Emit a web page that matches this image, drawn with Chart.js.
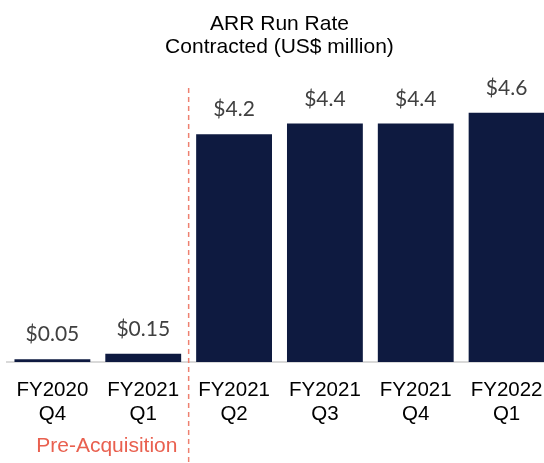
<!DOCTYPE html>
<html>
<head>
<meta charset="utf-8">
<script src="https://cdn.jsdelivr.net/npm/chart.js@4"></script>
<style>
html,body{margin:0;padding:0;background:#fff;overflow:hidden;width:544px;height:463px;}
#wrap{width:560px;height:463px;}
</style>
</head>
<body>
<div id="wrap"><canvas id="c" width="560" height="463"></canvas></div>
<script>
const categories = [["FY2020","Q4"],["FY2021","Q1"],["FY2021","Q2"],["FY2021","Q3"],["FY2021","Q4"],["FY2022","Q1"]];
const arrValues = [0.05, 0.15, 4.2, 4.4, 4.4, 4.6];
const valueLabels = ["$0.05", "$0.15", "$4.2", "$4.4", "$4.4", "$4.6"];
const titleLines = ["ARR Run Rate", "Contracted (US$ million)"];
const annotationText = "Pre-Acquisition";

const overlay = {
  id: 'overlay',
  afterDatasetsDraw(chart) {
    const ctx = chart.ctx;
    const meta = chart.getDatasetMeta(0);
    const x = chart.scales.x;
    ctx.save();
    // value labels
    ctx.font = '21px Lato, "Open Sans", sans-serif';
    ctx.fillStyle = '#404040';
    ctx.textAlign = 'center';
    ctx.textBaseline = 'alphabetic';
    meta.data.forEach((bar, i) => {
      ctx.fillText(valueLabels[i], bar.x, bar.y - 18);
    });
    // title
    ctx.font = '21px "Liberation Sans", Arial, sans-serif';
    ctx.fillStyle = '#000';
    const cx = (chart.chartArea.left + chart.chartArea.right) / 2;
    ctx.fillText(titleLines[0], cx, 29.5);
    ctx.fillText(titleLines[1], cx, 53);
    // dashed divider
    const dx = (x.getPixelForValue(1) + x.getPixelForValue(2)) / 2;
    ctx.strokeStyle = '#ee8070';
    ctx.lineWidth = 1.5;
    ctx.setLineDash([5, 4]);
    ctx.beginPath();
    ctx.moveTo(dx, 88);
    ctx.lineTo(dx, 463);
    ctx.stroke();
    ctx.setLineDash([]);
    // pre-acquisition label
    ctx.font = '21px "Liberation Sans", Arial, sans-serif';
    ctx.fillStyle = '#e9604f';
    const px = (x.getPixelForValue(0) + x.getPixelForValue(1)) / 2 + 9;
    ctx.fillText(annotationText, px, 451.5);
    ctx.restore();
  }
};

new Chart(document.getElementById('c'), {
  type: 'bar',
  data: {
    labels: categories,
    datasets: [{
      data: arrValues,
      backgroundColor: '#0e1a40',
      borderWidth: 0,
      barPercentage: 0.835,
      categoryPercentage: 1.0
    }]
  },
  options: {
    responsive: false,
    animation: false,
    layout: { padding: { left: 6, right: 8, top: 91, bottom: 0 } },
    plugins: { legend: { display: false }, title: { display: false }, tooltip: { enabled: false } },
    scales: {
      x: {
        offset: true,
        grid: { display: false, drawTicks: false },
        border: { display: true, color: '#d9d9d9', width: 2 },
        ticks: {
          color: '#000',
          font: { family: '"Liberation Sans", Arial, sans-serif', size: 20.5, lineHeight: 1.17 },
          padding: 16,
          maxRotation: 0,
          autoSkip: false
        },
        afterFit(scale) { scale.height = 101; }
      },
      y: {
        display: false,
        min: 0,
        max: 5
      }
    }
  },
  plugins: [overlay]
});
</script>
</body>
</html>
